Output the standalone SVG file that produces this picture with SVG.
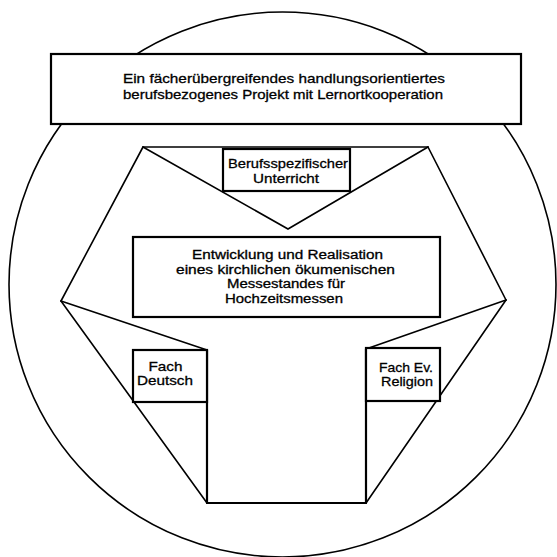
<svg xmlns="http://www.w3.org/2000/svg" width="557" height="557" viewBox="0 0 557 557">
<style>
.box{fill:#fff;stroke:#000;stroke-width:2.2}
.ln{stroke:#000;stroke-width:1.6;fill:none;stroke-linecap:round}
.thick{stroke-width:2.2}
text{font-family:"Liberation Sans",Arial,sans-serif;fill:#000;stroke:#000;stroke-width:0.3;text-anchor:middle}
.t13{font-size:13.5px}
.t12{font-size:12.5px}
</style>
<rect width="557" height="557" fill="#fff"/>
<g id="frame">
<ellipse cx="282.5" cy="284.5" rx="273.5" ry="272.5" fill="none" stroke="#000" stroke-width="1.6"/>
</g>
<g id="connectors">
<line class="ln" x1="143" y1="147" x2="428" y2="147"/>
<line class="ln" x1="143" y1="147" x2="61" y2="301"/>
<line class="ln" x1="428" y1="147" x2="506" y2="300"/>
<line class="ln" x1="61" y1="301" x2="207" y2="503"/>
<line class="ln" x1="506" y1="300" x2="366" y2="503"/>
<line class="ln thick" x1="207" y1="503" x2="366" y2="503"/>
<polyline class="ln" points="143,147 288,229 428,147"/>
<line class="ln" x1="61" y1="301" x2="207" y2="350"/>
<line class="ln" x1="506" y1="300" x2="366" y2="349"/>
<line class="ln thick" x1="207" y1="350" x2="207" y2="503"/>
<line class="ln thick" x1="366" y1="349" x2="366" y2="503"/>
</g>
<g id="projekt">
<rect class="box" x="51" y="54" width="470" height="70"/>
<text class="t13" x="284" y="83" textLength="322" lengthAdjust="spacingAndGlyphs">Ein fächerübergreifendes handlungsorientiertes</text>
<text class="t13" x="283" y="99" textLength="320" lengthAdjust="spacingAndGlyphs">berufsbezogenes Projekt mit Lernortkooperation</text>
</g>
<g id="beruf">
<rect class="box" x="223" y="149" width="127" height="42"/>
<text class="t13" x="288" y="168" textLength="120" lengthAdjust="spacingAndGlyphs">Berufsspezifischer</text>
<text class="t13" x="286" y="183" textLength="66" lengthAdjust="spacingAndGlyphs">Unterricht</text>
</g>
<g id="messestand">
<rect class="box" x="133" y="237" width="307" height="80"/>
<text class="t12" x="287.5" y="259" textLength="191" lengthAdjust="spacingAndGlyphs">Entwicklung und Realisation</text>
<text class="t12" x="285.5" y="273.5" textLength="219" lengthAdjust="spacingAndGlyphs">eines kirchlichen ökumenischen</text>
<text class="t12" x="286" y="288" textLength="118" lengthAdjust="spacingAndGlyphs">Messestandes für</text>
<text class="t12" x="284" y="303" textLength="118" lengthAdjust="spacingAndGlyphs">Hochzeitsmessen</text>
</g>
<g id="deutsch">
<rect class="box" x="133" y="350" width="74" height="52"/>
<text class="t13" x="165.5" y="371" textLength="34" lengthAdjust="spacingAndGlyphs">Fach</text>
<text class="t13" x="165" y="385" textLength="56" lengthAdjust="spacingAndGlyphs">Deutsch</text>
</g>
<g id="religion">
<rect class="box" x="366" y="348" width="74" height="53"/>
<text class="t13" x="406" y="372" textLength="54" lengthAdjust="spacingAndGlyphs">Fach Ev.</text>
<text class="t13" x="407" y="386" textLength="52" lengthAdjust="spacingAndGlyphs">Religion</text>
</g>
</svg>
